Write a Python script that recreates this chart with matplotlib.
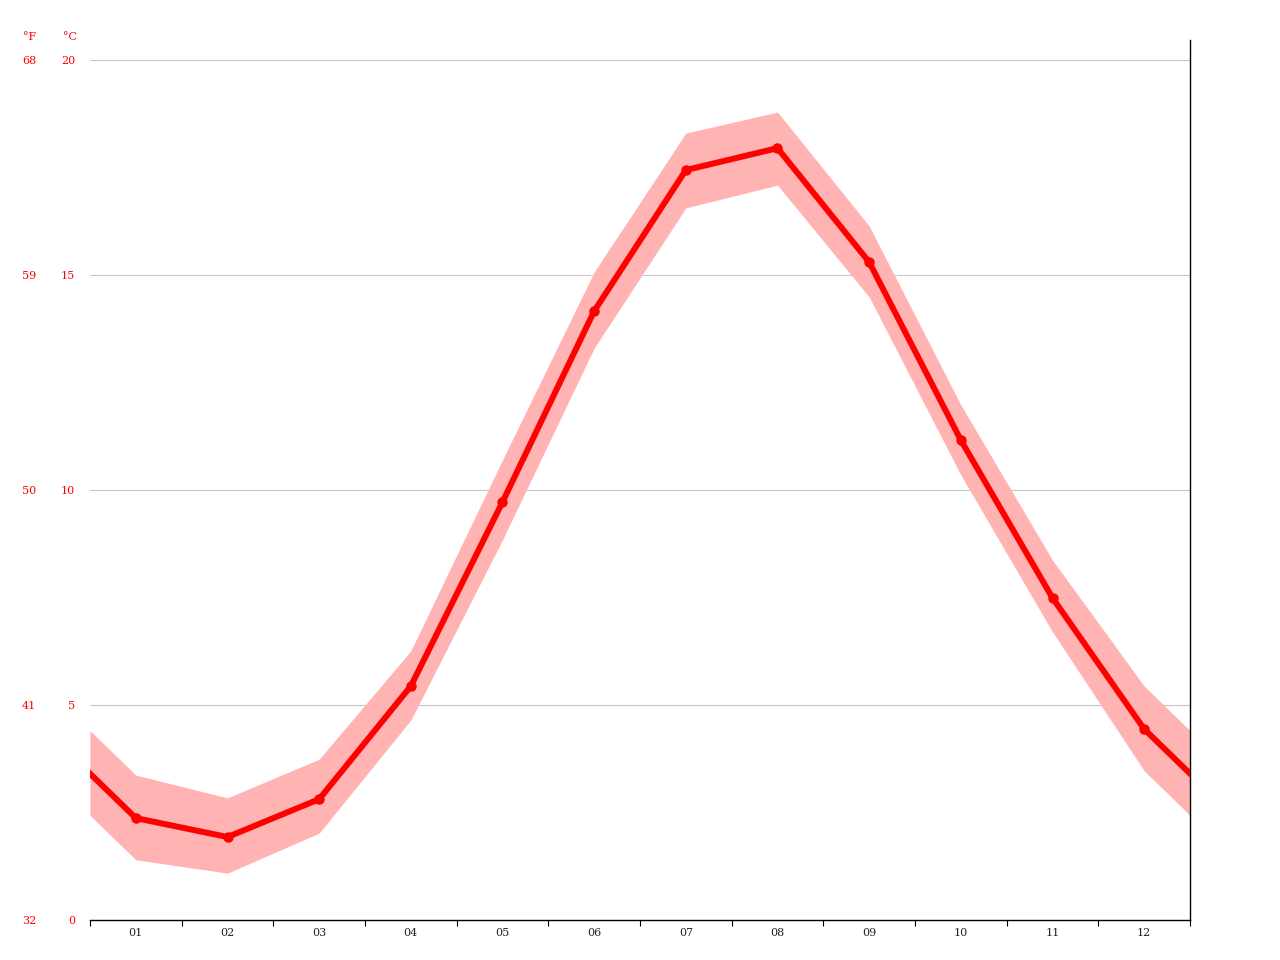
import numpy as np
import matplotlib.pyplot as plt

# monthly temperatures (deg C)
months = ['01', '02', '03', '04', '05', '06', '07', '08', '09', '10', '11', '12']
t_mean = [2.37, 1.93, 2.81, 5.44, 9.72, 14.16, 17.44, 17.95, 15.30, 11.16, 7.49, 4.44]
t_high = [3.37, 2.84, 3.74, 6.26, 10.70, 15.07, 18.30, 18.79, 16.14, 11.98, 8.37, 5.44]
t_low = [1.40, 1.09, 2.02, 4.65, 8.84, 13.30, 16.56, 17.09, 14.49, 10.35, 6.70, 3.47]
c_ticks = [0, 5, 10, 15, 20]
f_ticks = ['32', '41', '50', '59', '68']

def wrap(v):
    # extend the year to the half-month edges (Dec -> Jan wrap)
    edge = (v[0] + v[-1]) / 2.0
    return [edge] + list(v) + [edge]

x = np.arange(1, 13)
xw = np.concatenate([[0.5], x, [12.5]])

fig = plt.figure(figsize=(12.8, 9.6), dpi=100)
ax = fig.add_axes([90/1280, 1 - 920/960, 1100/1280, 880/960])
ymax = 20 + 20/43.0

for c in c_ticks[1:]:
    ax.axhline(c, color='#c8c8c8', lw=0.8, zorder=1)

ax.fill_between(xw, wrap(t_low), wrap(t_high), color='#ffb3b3', lw=0, zorder=2)
ax.plot(xw, wrap(t_mean), color='#ff0000', lw=4.3, zorder=3, solid_joinstyle='round')
ax.plot(x, t_mean, 'o', color='#ff0000', ms=6.5, zorder=4)

ax.set_xlim(0.5, 12.5)
ax.set_ylim(0, ymax)

for s in ['left', 'top']:
    ax.spines[s].set_visible(False)
ax.spines['right'].set_color('black')
ax.spines['bottom'].set_color('black')
ax.spines['right'].set_linewidth(1.0)
ax.spines['bottom'].set_linewidth(1.0)

ax.set_xticks(x)
ax.set_xticklabels(months, fontsize=8, family='DejaVu Serif', color='#222222')
ax.tick_params(axis='x', which='major', length=0, pad=6)
ax.set_xticks(np.arange(0.5, 12.6, 1), minor=True)
ax.tick_params(axis='x', which='minor', length=4, width=0.8, direction='out', color='black')
ax.set_yticks([])

tr = ax.get_yaxis_transform()
for c, f in zip(c_ticks, f_ticks):
    ax.text(-0.0136, c, str(c), transform=tr, ha='right', va='center_baseline',
            fontsize=8, family='DejaVu Serif', color='#ff0000')
    ax.text(-0.049, c, f, transform=tr, ha='right', va='center_baseline',
            fontsize=8, family='DejaVu Serif', color='#ff0000')
fig.text(36/1280, 1 - 36/960, '°F', ha='right', va='center_baseline',
         fontsize=8, family='DejaVu Serif', color='#ff0000')
fig.text(77/1280, 1 - 36/960, '°C', ha='right', va='center_baseline',
         fontsize=8, family='DejaVu Serif', color='#ff0000')

fig.savefig('out.png', dpi=100)
